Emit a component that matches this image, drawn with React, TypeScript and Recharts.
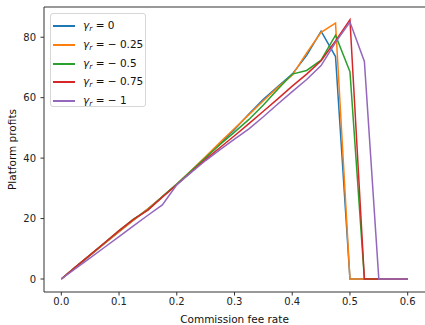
import React from 'react';
import { LineChart, Line, XAxis, YAxis, Legend, ReferenceLine } from 'recharts';

// commission fee rate grid
const rates = [
  0, 0.025, 0.05, 0.075, 0.1, 0.125, 0.15, 0.175, 0.2, 0.225, 0.25, 0.275, 0.3,
  0.325, 0.35, 0.375, 0.4, 0.425, 0.45, 0.475, 0.5, 0.525, 0.55, 0.575, 0.6,
];

// platform profits for each gamma_r
const profitG0 = [0, 4, 7.9, 11.8, 15.7, 19.5, 23.2, 27.2, 31.3, 35.6, 40.1, 44.8, 49.5, 54.6, 59.5, 63.7, 67.8, 74, 82, 73.6, 0, 0, 0, 0, 0];
const profitG025 = [0, 4, 7.9, 11.8, 15.7, 19.5, 23.2, 27.2, 31.4, 35.9, 40.5, 45.2, 49.8, 54.4, 59, 63.4, 67.4, 74.8, 81.6, 84.7, 0, 0, 0, 0, 0];
const profitG05 = [0, 4, 8, 12, 16, 19.8, 22.9, 27.3, 31.4, 35.8, 40.2, 44.5, 48.6, 52.8, 57.6, 62.8, 67.8, 69, 72.4, 80.7, 68.6, 0, 0, 0, 0];
const profitG075 = [0, 4, 8, 12, 16, 19.7, 22.8, 27.1, 31.2, 35.4, 39.6, 43.5, 47.4, 51.4, 55.5, 59.6, 63.8, 67.8, 72.2, 78.8, 85.8, 0, 0, 0, 0];
const profitG1 = [0, 3.5, 7, 10.5, 14, 17.6, 21.1, 24.5, 31.2, 35.3, 39.2, 42.8, 46.3, 49.7, 53.7, 57.9, 62, 66, 70.6, 78.3, 85, 72, 0, 0, 0];

const xTicks = [0, 0.1, 0.2, 0.3, 0.4, 0.5, 0.6];
const yTicks = [0, 20, 40, 60, 80];

const series = [
  { key: 'g0', gamma: '0', color: '#1f77b4', values: profitG0 },
  { key: 'g025', gamma: '\u2212 0.25', color: '#ff7f0e', values: profitG025 },
  { key: 'g05', gamma: '\u2212 0.5', color: '#2ca02c', values: profitG05 },
  { key: 'g075', gamma: '\u2212 0.75', color: '#d62728', values: profitG075 },
  { key: 'g1', gamma: '\u2212 1', color: '#9467bd', values: profitG1 },
];

const rows = rates.map((rate, i) => {
  const row: Record<string, number> = { rate };
  series.forEach((s) => {
    row[s.key] = s.values[i];
  });
  return row;
});

const FONT = '"DejaVu Sans", sans-serif';
const AXIS = '#333';

function GammaLegend({ payload }: any) {
  return (
    <div
      style={{
        border: '1px solid #d6d6d6',
        borderRadius: 3,
        background: 'rgba(255,255,255,0.85)',
        width: 96,
        height: 94,
        boxSizing: 'border-box',
        padding: '3px 0 0 2px',
        fontFamily: FONT,
        fontSize: 10.5,
        color: '#111',
      }}
    >
      {(payload || []).map((p: any) => {
        const s = series.find((x) => x.key === p.dataKey);
        return (
          <div key={p.dataKey} style={{ display: 'flex', alignItems: 'center', height: 18.7 }}>
            <span style={{ display: 'inline-block', width: 22, height: 2, background: p.color, marginRight: 8 }} />
            <span style={{ whiteSpace: 'pre' }}>
              <i>γ</i>
              <sub style={{ fontSize: 7.5, fontStyle: 'italic', verticalAlign: -2 }}>r</sub>
              {' = ' + (s ? s.gamma : '')}
            </span>
          </div>
        );
      })}
    </div>
  );
}

export default function App() {
  return (
    <div style={{ position: 'absolute', left: 0, top: 0, background: '#fff' }}>
      <LineChart width={425} height={325} data={rows} margin={{ top: 7, right: 0, bottom: 0, left: 0 }}>
        <XAxis
          dataKey="rate"
          type="number"
          domain={[-0.03, 0.63]}
          allowDataOverflow
          ticks={xTicks}
          tickFormatter={(v: number) => v.toFixed(1)}
          height={33}
          tickSize={3.5}
          tickMargin={2}
          stroke={AXIS}
          tick={{ fill: '#222', fontSize: 10, fontFamily: FONT }}
          label={{
            content: ({ viewBox }: any) => (
              <text x={viewBox.x + viewBox.width / 2} y={323} textAnchor="middle" fill="#111" fontSize={10.5} fontFamily={FONT}>
                Commission fee rate
              </text>
            ),
          }}
        />
        <YAxis
          type="number"
          domain={[-4.3, 90]}
          allowDataOverflow
          ticks={yTicks}
          width={44}
          tickSize={3.5}
          tickMargin={4.5}
          stroke={AXIS}
          tick={{ fill: '#222', fontSize: 10, fontFamily: FONT }}
          label={{
            content: ({ viewBox }: any) => {
              const cy = viewBox.y + viewBox.height / 2;
              return (
                <text x={16} y={cy} transform={`rotate(-90 16 ${cy})`} textAnchor="middle" fill="#111" fontSize={10.5} fontFamily={FONT}>
                  Platform profits
                </text>
              );
            },
          }}
        />
        <ReferenceLine y={90} stroke={AXIS} strokeWidth={1} />
        <Legend
          verticalAlign="middle"
          align="center"
          layout="vertical"
          wrapperStyle={{ position: 'absolute', left: 50, top: 13, width: 96, height: 94 }}
          content={<GammaLegend />}
        />
        {series.map((s) => (
          <Line
            key={s.key}
            dataKey={s.key}
            stroke={s.color}
            strokeWidth={1.5}
            dot={false}
            activeDot={false}
            isAnimationActive={false}
          />
        ))}
      </LineChart>
    </div>
  );
}
